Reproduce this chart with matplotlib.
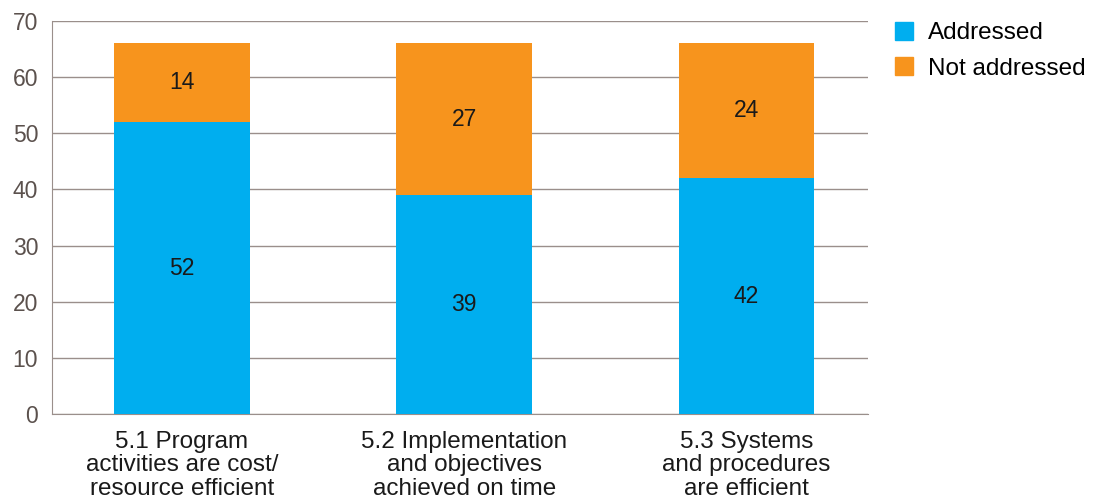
import numpy as np
import matplotlib
matplotlib.use('Agg')
import matplotlib.pyplot as plt
from matplotlib.patches import Patch

categories = ['5.1 Program\nactivities are cost/\nresource efficient',
              '5.2 Implementation\nand objectives\nachieved on time',
              '5.3 Systems\nand procedures\nare efficient']
addressed = [52, 39, 42]
not_addressed = [14, 27, 24]

blue = '#00AEEF'
orange = '#F7941D'
grid_col = '#9a8f8b'
tick_col = '#5b514d'

plt.rcParams['font.family'] = ['Liberation Sans', 'DejaVu Sans']

fig = plt.figure(figsize=(10.98, 5.04), dpi=100)
ax = fig.add_axes([52/1098, 1 - 414/504, (868-52)/1098, (414-21)/504])

x = np.arange(len(categories))
w = 0.48
ax.bar(x, addressed, w, color=blue, zorder=3)
ax.bar(x, not_addressed, w, bottom=addressed, color=orange, zorder=3)

for i in range(len(x)):
    ax.text(x[i], addressed[i] / 2, str(addressed[i]), ha='center', va='center',
            fontsize=16.5, color='#1a1a1a', zorder=4)
    ax.text(x[i], addressed[i] + not_addressed[i] / 2, str(not_addressed[i]),
            ha='center', va='center', fontsize=16.5, color='#1a1a1a', zorder=4)

ax.set_xlim(-0.46, 2.43)
ax.set_ylim(0, 70)
ax.set_yticks(range(0, 71, 10))
ax.yaxis.grid(True, color=grid_col, linewidth=1, zorder=0)
ax.set_xticks(x)
ax.set_xticklabels(categories, fontsize=17.5, color='#1a1a1a', linespacing=1.1)
ax.tick_params(axis='x', length=0, pad=12)
ax.tick_params(axis='y', length=0, pad=10, labelsize=16.5, labelcolor=tick_col)
for s in ['top', 'right']:
    ax.spines[s].set_visible(False)
ax.spines['left'].set_color(grid_col)
ax.spines['bottom'].set_color(grid_col)

handles = [Patch(color=blue, label='Addressed'), Patch(color=orange, label='Not addressed')]
fig.legend(handles=handles, loc='upper left', bbox_to_anchor=(885/1098, 1 - 12/504),
           frameon=False, fontsize=17.5, handlelength=0.75, handleheight=0.75,
           handletextpad=0.6, labelspacing=0.55, borderaxespad=0)

fig.savefig('out.png', dpi=100)
